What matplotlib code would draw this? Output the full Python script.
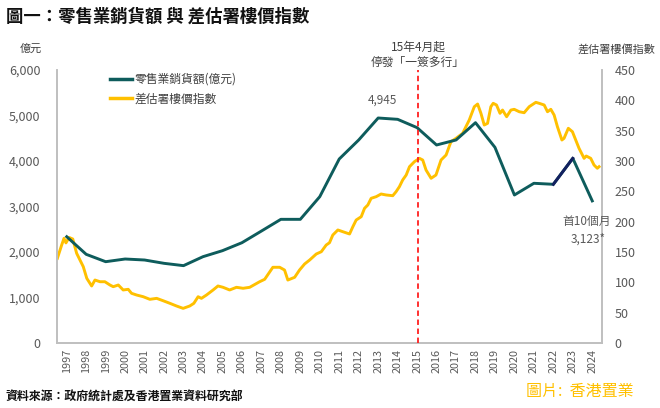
import matplotlib
matplotlib.use("Agg")
import matplotlib.pyplot as plt
import numpy as np
from matplotlib.lines import Line2D

plt.rcParams['font.family'] = ['Noto Sans CJK TC', 'DejaVu Sans']

years = list(range(1997, 2025))
retail = [2336, 1949, 1787, 1846, 1824, 1751, 1700, 1897, 2029, 2204, 2460, 2718,
          2718, 3216, 4044, 4462, 4945, 4916, 4733, 4352, 4462, 4842, 4300, 3253,
          3510, 3488, 4059, 3123]

idx_dates = [1997.02, 1997.24, 1997.36, 1997.46, 1997.62, 1997.81, 1998.01, 1998.18,
             1998.35, 1998.53, 1998.78, 1998.95, 1999.21, 1999.46, 1999.72, 1999.89,
             2000.15, 2000.40, 2000.66, 2000.83, 2001.09, 2001.43, 2001.77, 2002.12,
             2002.45, 2002.80, 2003.14, 2003.48, 2003.82, 2004.03, 2004.25, 2004.42,
             2004.68, 2005.02, 2005.27, 2005.53, 2005.87, 2006.22, 2006.56, 2006.90,
             2007.41, 2007.67, 2008.09, 2008.44, 2008.69, 2008.86, 2009.21, 2009.46,
             2009.72, 2009.98, 2010.32, 2010.58, 2010.83, 2011.00, 2011.17, 2011.43,
             2011.68, 2012.03, 2012.20, 2012.37, 2012.63, 2012.80, 2012.97, 2013.14,
             2013.40, 2013.65, 2013.91, 2014.25, 2014.42, 2014.59, 2014.76, 2014.94,
             2015.11, 2015.36, 2015.62, 2015.79, 2015.96, 2016.22, 2016.47, 2016.73,
             2016.99, 2017.24, 2017.50, 2017.84, 2018.18, 2018.44, 2018.61, 2018.78,
             2018.95, 2019.12, 2019.29, 2019.41, 2019.58, 2019.76, 2019.89, 2020.10,
             2020.32, 2020.49, 2020.75, 2021.00, 2021.26, 2021.60, 2021.77, 2022.03,
             2022.20, 2022.37, 2022.54, 2022.71, 2022.94, 2023.05, 2023.27, 2023.48,
             2023.65, 2023.82, 2024.08, 2024.19, 2024.42, 2024.59, 2024.76, 2024.85]
idx_values = [139.6, 161.5, 172.5, 165.0, 174.0, 171.4, 147.8, 136.8,
              125.8, 106.6, 94.0, 103.8, 101.0, 101.0, 95.6, 92.8,
              95.6, 87.4, 88.5, 81.9, 79.1, 76.3, 72.0, 73.6,
              69.7, 65.4, 61.0, 57.1, 61.0, 65.4, 76.3, 73.6,
              79.1, 87.4, 94.0, 91.8, 87.4, 91.8, 90.2, 91.8,
              101.0, 105.0, 124.8, 124.8, 120.3, 103.8, 108.3, 120.3,
              130.2, 136.8, 146.7, 150.5, 161.5, 165.3, 178.0, 186.3,
              183.5, 179.7, 191.7, 202.7, 208.2, 222.0, 227.5, 238.5,
              241.2, 245.6, 244.0, 242.8, 249.4, 257.6, 268.7, 276.9,
              290.6, 298.8, 304.4, 301.6, 285.1, 271.5, 276.9, 301.6,
              309.9, 331.8, 337.4, 345.6, 367.6, 389.5, 393.9, 378.6,
              359.3, 362.1, 389.5, 395.1, 392.3, 378.6, 384.0, 373.0,
              384.0, 385.2, 381.2, 379.6, 389.5, 396.7, 395.1, 392.3,
              381.2, 385.2, 375.8, 356.5, 334.6, 337.4, 353.9, 348.3,
              334.6, 320.9, 304.4, 308.2, 304.4, 293.4, 288.0, 290.6]

policy_date = 2015.05

TEAL = '#0E5C5C'
NAVY = '#132060'
GOLD = '#FFC000'
GRAY = '#595959'
SPINE = '#BFBFBF'

fig = plt.figure(figsize=(6.6, 4.08), dpi=100)
ax = fig.add_axes([57/660, 1-343/408, (602-57)/660, (343-70)/408])
ax2 = ax.twinx()

xr = np.arange(len(years))
xi = np.array(idx_dates) - years[0] - 0.5

ax2.plot(xi, idx_values, color=GOLD, lw=2.1, solid_joinstyle='round', zorder=2)
ax.plot(xr, retail, color=TEAL, lw=2.1, zorder=3)
i22 = years.index(2022)
ax.plot(xr[i22:i22+2], retail[i22:i22+2], color=NAVY, lw=2.1, zorder=4)

ax.set_zorder(ax2.get_zorder() + 1)
ax.patch.set_visible(False)

ax.axvline(policy_date - years[0], color='#FF2020', lw=1.3, ls=(0, (3, 2)), zorder=5)

ax.set_xlim(-0.5, 27.5)
ax.set_ylim(0, 6000)
ax2.set_ylim(0, 450)
ax.set_yticks(np.arange(0, 6001, 1000))
ax.set_yticklabels([f'{v:,}' for v in range(0, 6001, 1000)])
ax2.set_yticks(np.arange(0, 451, 50))
ax.set_xticks(xr)
ax.set_xticklabels([str(y) for y in years], rotation=90)

for a in (ax, ax2):
    for s in a.spines.values():
        s.set_color(SPINE)
        s.set_linewidth(1.2)
    a.spines['top'].set_visible(False)
    a.tick_params(length=0, colors=GRAY, labelsize=9)
ax.tick_params(axis='x', labelsize=7.8, pad=4)
ax.tick_params(axis='y', pad=12)
ax2.tick_params(axis='y', pad=9)

handles = [Line2D([], [], color=TEAL, lw=2.5), Line2D([], [], color=GOLD, lw=2.5)]
ax.legend(handles, ['零售業銷貨額(億元)', '差估署樓價指數'], loc='upper left',
          bbox_to_anchor=(0.097, 0.99), frameon=False, fontsize=8.5, borderpad=0,
          borderaxespad=0, handlelength=1.9, handletextpad=0.15, labelspacing=0.55,
          labelcolor='#404040')

ax.annotate('4,945', (years.index(2013), retail[years.index(2013)]), xytext=(3, 8),
            textcoords='offset points', ha='center', va='bottom', fontsize=8.5, color=GRAY)
ax.annotate('首10個月', (years.index(2024), retail[-1]), xytext=(-4, -10),
            textcoords='offset points', ha='center', va='top', fontsize=8.5, color=GRAY)
ax.annotate('3,123*', (years.index(2024), retail[-1]), xytext=(-3, -23),
            textcoords='offset points', ha='center', va='top', fontsize=8.5, color=GRAY)

fig.text(418/660, 1-47/408, '15年4月起', ha='center', va='center', fontsize=8.5, color='#404040')
fig.text(418/660, 1-62/408, '停發「一簽多行」', ha='center', va='center', fontsize=8.5, color='#404040')

fig.text(31/660, 1-49/408, '億元', ha='center', va='center', fontsize=8, color='#404040')
fig.text(616/660, 1-49/408, '差估署樓價指數', ha='center', va='center', fontsize=8, color='#404040')

fig.text(6/660, 1-17/408, '圖一：零售業銷貨額 與 差估署樓價指數', ha='left', va='center',
         fontsize=12.5, fontweight='bold', color='#111111')
fig.text(5/660, 1-396/408, '資料來源：政府統計處及香港置業資料研究部', ha='left', va='center',
         fontsize=8.6, fontweight='bold', color='#111111')
fig.text(634/660, 1-391/408, '圖片:  香港置業', ha='right', va='center',
         fontsize=11.5, color=GOLD)

fig.savefig('out.png', dpi=100)
